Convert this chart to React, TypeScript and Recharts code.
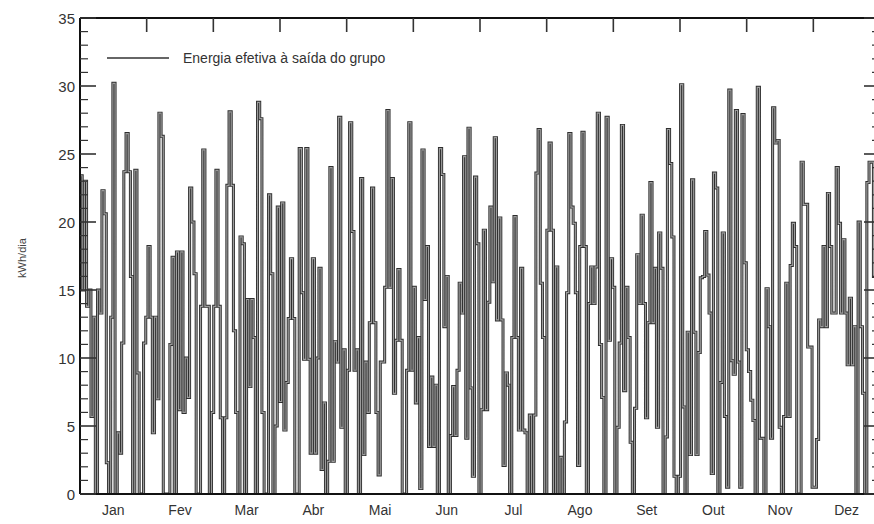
import { LineChart, Line, XAxis, YAxis, Legend, Label } from 'recharts'

const meses = ['Jan', 'Fev', 'Mar', 'Abr', 'Mai', 'Jun', 'Jul', 'Ago', 'Set', 'Out', 'Nov', 'Dez']

// kWh/dia, um valor por dia
const energiaDiaria = [
	// jan
	23.4, 15, 23, 13.8, 15, 5.7, 13, 0, 15, 13.3, 22.3, 20.6, 2.3, 0, 13, 30.2, 0, 4.5, 3, 11.1,
	23.7, 26.5, 23.7, 16, 0, 23.8, 8.9, 0, 0, 11.1, 13,
	// fev
	18.2, 13, 4.5, 13, 7, 28, 26.3, 0, 0, 0, 11, 17.4, 0, 17.8, 6.2, 17.8, 6, 10, 7.1, 22.5,
	20, 16.2, 0, 0, 13.8, 25.3, 13.8, 13.8,
	// mar
	0, 6, 13.8, 23.8, 13.8, 5.6, 0, 5.6, 22.7, 28.1, 22.7, 12, 6, 0, 18.9, 18.4, 0, 14.3, 7.9, 14.3,
	11.5, 0, 28.8, 27.6, 6, 0, 0, 22, 16.2, 0,
	// abr
	5, 21.1, 6.8, 21.4, 4.7, 8.2, 12.9, 17.3, 12.9, 0, 0, 25.4, 14.8, 9.9, 25.4, 9.9, 3, 17.3, 3, 10,
	16.6, 1.8, 6.7, 0, 2.4, 24, 2.4, 11.2, 9.7, 27.7,
	// mai
	4.9, 10.6, 0, 9.1, 27.3, 19.3, 9.1, 10.6, 0, 23.2, 2.9, 9.7, 6, 12.6, 22.5, 12.6, 6, 1.4, 9.7, 9.7,
	15.2, 28.2, 15.2, 23.2, 7.4, 11.3, 16.5, 11.3, 0, 0, 9.1,
	// jun
	27.3, 9.1, 15.2, 6.7, 11.5, 0.4, 25.3, 14.3, 18.2, 3.5, 8.6, 3.5, 8, 0, 25.4, 23.5, 12.3, 16, 0,
	4.3, 7.9, 4.3, 9.1, 15.5, 13.3, 24.8, 4.1, 26.9, 7.8,
	// jul
	1.3, 23.3, 18.4, 0, 6.2, 19.4, 6.2, 14.1, 21.1, 15.6, 26.2, 12.8, 20.3, 12.8, 2.1, 8.9, 8, 0, 11.5, 20.4,
	11.5, 4.7, 16.6, 4.7, 4.5, 0, 5.8, 0, 5.8, 23.6, 26.8,
	// ago
	15.5, 11.5, 0, 19.4, 25.8, 19.4, 0, 16.7, 0, 2.7, 0, 5.3, 14.8, 26.5, 21.1, 19.9, 14.8, 2.1, 18.2, 26.6,
	18.2, 0, 14, 16.7, 14, 16.7, 28, 11, 7.1, 0,
	// set
	27.7, 11.3, 17.3, 15.2, 0, 4.9, 11.1, 27.1, 7.6, 15.2, 11.5, 3.8, 0, 6.3, 17.6, 14, 20.5, 14, 5.6, 12.6,
	22.9, 12.6, 16.6, 4.9, 19.2, 16.6, 0, 4.2, 26.8, 24.3,
	// out
	18.9, 1.3, 0, 1.3, 30.1, 6.4, 0, 11.9, 2.9, 23.1, 11.9, 2.9, 10.4, 15.9, 16, 19.3, 16.1, 13.3, 1.5, 23.6,
	22.5, 0, 8.2, 19.2, 5.7, 0.5, 29.7, 9.8, 8.8, 28.2, 9.7,
	// nov
	0.5, 27.9, 17, 10.6, 9, 6.9, 5.4, 0, 29.9, 4.1, 4.1, 0, 15.1, 12.3, 4.1, 28.4, 25.8, 26, 4.9, 0,
	5.7, 15.5, 5.7, 16.8, 19.9, 18.2, 0, 0, 24.4,
	// dez
	21.3, 21.3, 10.8, 10.8, 0.5, 0.5, 4, 12.8, 12.3, 18.2, 12.3, 22.1, 18.2, 13.3, 13.3, 24, 19.9, 13.3, 18.7, 13.3,
	9.5, 14.4, 9.5, 12.3, 0, 20, 12.3, 7.4, 0, 22.9, 24.4, 24.4, 16, 20, 12,
]

// marcas do eixo y: todas as unidades, rótulo de 5 em 5
const yTicks = Array.from({ length: 36 }, (_, i) => i)

const DIAS = 365
const MES = DIAS / 12
const mesCentro = meses.map((_, i) => (i + 0.5) * MES)
const mesLimite = meses.slice(1).map((_, i) => (i + 1) * MES)

const data = energiaDiaria.slice(0, DIAS).map((v, i) => ({ dia: i, energia: v }))

const font = '"Liberation Sans", Arial, sans-serif'
const tickCor = '#333'

function TickEsquerda({ x, y, payload }: any) {
	const major = payload.value % 5 === 0
	return (
		<g>
			<line x1={x} y1={y} x2={x + (major ? 16 : 8)} y2={y} stroke={tickCor} strokeWidth={major ? 1.6 : 1.2} />
			{major && (
				<text x={x - 5} y={y} textAnchor="end" dominantBaseline="central" fontSize={15} fill="#333" fontFamily={font}>
					{payload.value}
				</text>
			)}
		</g>
	)
}

function TickDireita({ x, y, payload }: any) {
	const major = payload.value % 5 === 0
	return <line x1={x - (major ? 16 : 8)} y1={y} x2={x} y2={y} stroke={tickCor} strokeWidth={major ? 1.6 : 1.2} />
}

function TickTopo({ x, y }: any) {
	return <line x1={x} y1={y} x2={x} y2={y + 14} stroke={tickCor} strokeWidth={1.6} />
}

function EixoYTitulo({ viewBox }: any) {
	const cx = viewBox.x + 23
	const cy = viewBox.y + viewBox.height / 2 + 2
	return (
		<text
			x={cx}
			y={cy}
			transform={`rotate(-90 ${cx} ${cy})`}
			textAnchor="middle"
			dominantBaseline="middle"
			fontSize={11}
			fill="#444"
			fontFamily={font}
		>
			kWh/dia
		</text>
	)
}

function Legenda() {
	return (
		<div style={{ display: 'flex', alignItems: 'center', fontFamily: font }}>
			<svg width={62} height={6}>
				<line x1={0} y1={3} x2={62} y2={3} stroke="#333" strokeWidth={1.5} />
			</svg>
			<span style={{ marginLeft: 14, fontSize: 14, color: '#333' }}>Energia efetiva à saída do grupo</span>
		</div>
	)
}

export default function App() {
	return (
		<div style={{ position: 'absolute', left: 0, top: 0, width: 874, height: 524, overflow: 'hidden', background: '#fff' }}>
			<LineChart
				width={883}
				height={524}
				data={data}
				margin={{ top: 17, right: 2, left: 0, bottom: 0 }}
				style={{ fontFamily: font }}
			>
				<XAxis
					dataKey="dia"
					type="number"
					domain={[0, DIAS]}
					allowDataOverflow
					ticks={mesCentro}
					tickFormatter={(v: number) => meses[Math.round(v / MES - 0.5)]}
					tickLine={false}
					tickSize={0}
					tickMargin={11}
					height={30}
					axisLine={{ stroke: '#111', strokeWidth: 2 }}
					tick={{ fontSize: 14, fill: '#333' }}
					interval={0}
				/>
				<XAxis
					xAxisId="top"
					dataKey="dia"
					orientation="top"
					type="number"
					domain={[0, DIAS]}
					allowDataOverflow
					ticks={mesLimite}
					tick={TickTopo}
					tickLine={false}
					tickSize={0}
					tickMargin={0}
					height={1}
					axisLine={{ stroke: '#111', strokeWidth: 2 }}
					interval={0}
				/>
				<YAxis
					type="number"
					domain={[0, 35]}
					allowDataOverflow
					ticks={yTicks}
					interval={0}
					width={80}
					tickSize={0}
					tickMargin={0}
					tickLine={false}
					axisLine={{ stroke: '#111', strokeWidth: 2 }}
					tick={TickEsquerda}
				>
					<Label content={EixoYTitulo} />
				</YAxis>
				<YAxis
					yAxisId="right"
					orientation="right"
					type="number"
					domain={[0, 35]}
					allowDataOverflow
					ticks={yTicks}
					interval={0}
					width={1}
					tickSize={0}
					tickMargin={0}
					tickLine={false}
					tick={TickDireita}
					axisLine={{ stroke: '#111', strokeWidth: 2 }}
				/>
				<Legend
					layout="vertical"
					align="center"
					verticalAlign="middle"
					wrapperStyle={{ position: 'absolute', top: 50, left: 107, width: 'auto', height: 'auto' }}
					content={Legenda}
				/>
				{/* série invisível que liga os eixos de cima e da direita */}
				<Line
					xAxisId="top"
					yAxisId="right"
					dataKey="energia"
					stroke="none"
					dot={false}
					activeDot={false}
					isAnimationActive={false}
					legendType="none"
				/>
				<Line
					type="stepAfter"
					dataKey="energia"
					stroke="#2e2e2e"
					strokeWidth={3}
					dot={false}
					isAnimationActive={false}
					legendType="none"
				/>
				<Line
					type="stepAfter"
					dataKey="energia"
					stroke="#9c9c9c"
					strokeWidth={1.2}
					dot={false}
					isAnimationActive={false}
					legendType="none"
				/>
			</LineChart>
		</div>
	)
}
